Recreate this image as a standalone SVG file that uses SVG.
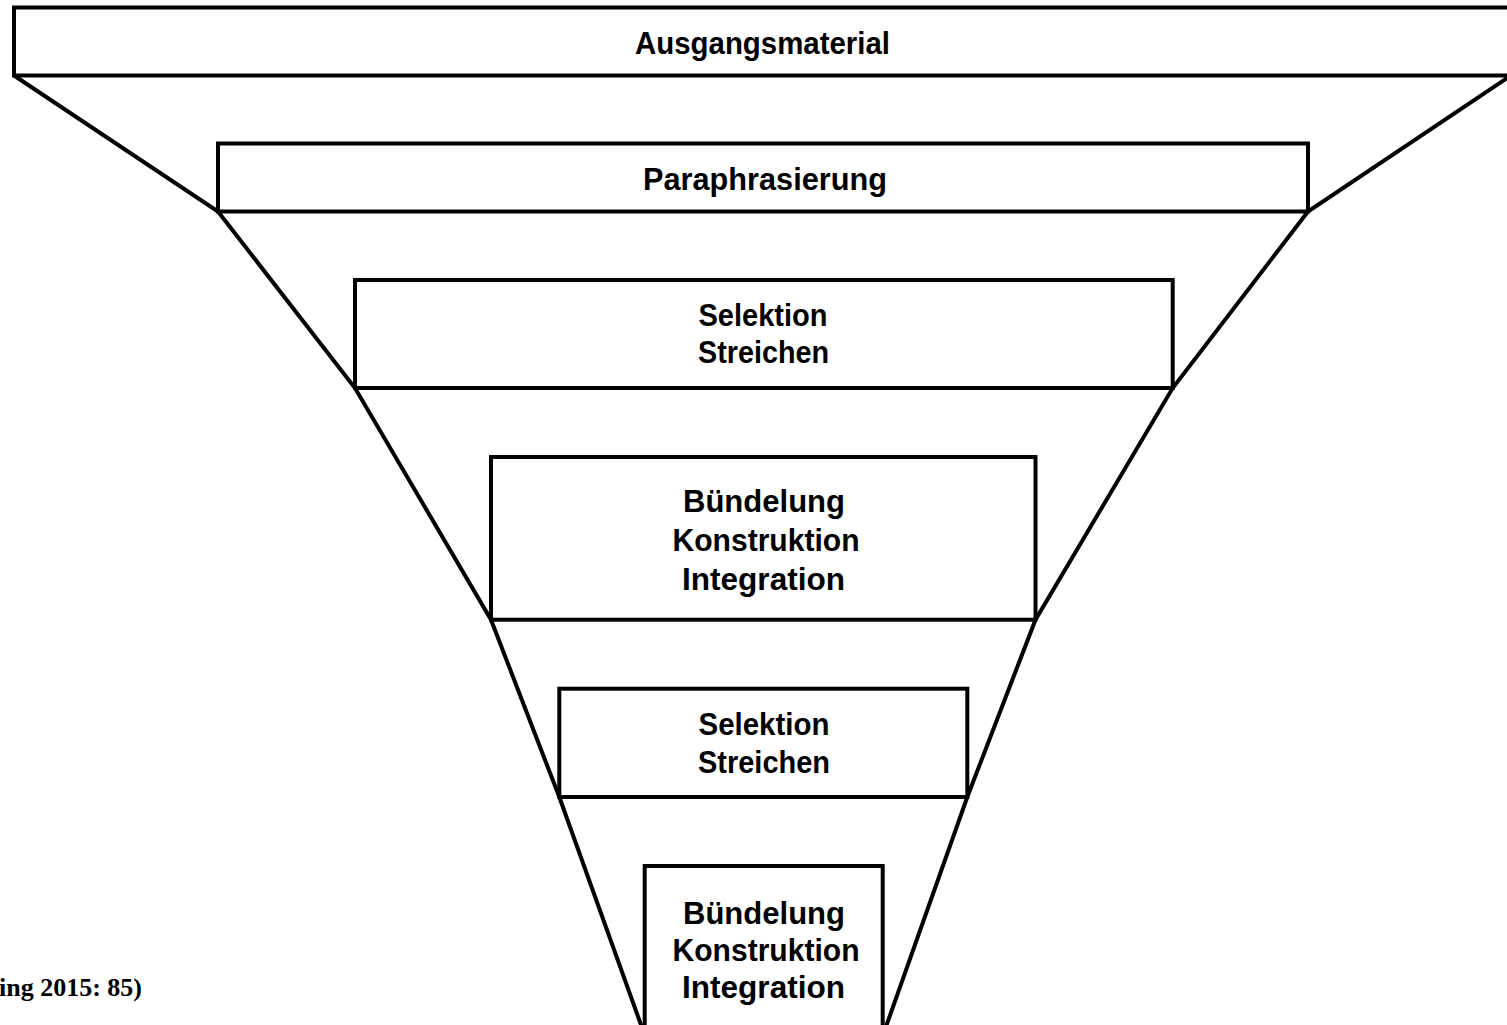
<svg xmlns="http://www.w3.org/2000/svg" width="1507" height="1025" viewBox="0 0 1507 1025">
  <style>
    .box { fill: #ffffff; stroke: #000000; stroke-width: 4; }
    .edge { fill: none; stroke: #000000; stroke-width: 4; stroke-linejoin: miter; }
    .lbl { font-family: "Liberation Sans", Arial, Helvetica, sans-serif; font-weight: bold; font-size: 32px; fill: #000000; text-anchor: middle; }
    .cap { font-family: "Liberation Serif", "Times New Roman", serif; font-weight: bold; font-size: 26px; fill: #000000; }
  </style>
  <rect width="1507" height="1025" fill="#ffffff"/>

  <!-- funnel walls joining the box corners -->
  <g id="connectors">
    <polyline class="edge" points="14,75.5 218,211.5 355,388 491,619.7 559.3,797 645,1036"/>
    <polyline class="edge" points="1511,75.5 1308,211.5 1172.7,388 1035.5,619.7 967.3,797 882.7,1036"/>
  </g>

  <g id="n1">
    <rect class="box" x="14" y="7.5" width="1497" height="68"/>
    <text class="lbl" x="762.5" y="54" textLength="255" lengthAdjust="spacingAndGlyphs">Ausgangsmaterial</text>
  </g>

  <g id="n2">
    <rect class="box" x="218" y="143.5" width="1090" height="68"/>
    <text class="lbl" x="765" y="190" textLength="244" lengthAdjust="spacingAndGlyphs">Paraphrasierung</text>
  </g>

  <g id="n3">
    <rect class="box" x="355" y="280" width="817.7" height="108"/>
    <text class="lbl" x="763" y="326" textLength="129" lengthAdjust="spacingAndGlyphs">Selektion</text>
    <text class="lbl" x="763.5" y="363" textLength="131" lengthAdjust="spacingAndGlyphs">Streichen</text>
  </g>

  <g id="n4">
    <rect class="box" x="491" y="457" width="544.5" height="162.7"/>
    <text class="lbl" x="764" y="512" textLength="162" lengthAdjust="spacingAndGlyphs">Bündelung</text>
    <text class="lbl" x="766" y="551" textLength="187" lengthAdjust="spacingAndGlyphs">Konstruktion</text>
    <text class="lbl" x="763.5" y="590" textLength="163" lengthAdjust="spacingAndGlyphs">Integration</text>
  </g>

  <g id="n5">
    <rect class="box" x="559.3" y="688.7" width="408" height="108.3"/>
    <text class="lbl" x="764" y="735" textLength="131" lengthAdjust="spacingAndGlyphs">Selektion</text>
    <text class="lbl" x="764" y="773" textLength="132" lengthAdjust="spacingAndGlyphs">Streichen</text>
  </g>

  <g id="n6">
    <rect class="box" x="644.7" y="866" width="238" height="175"/>
    <text class="lbl" x="764" y="924" textLength="162" lengthAdjust="spacingAndGlyphs">Bündelung</text>
    <text class="lbl" x="766" y="961" textLength="187" lengthAdjust="spacingAndGlyphs">Konstruktion</text>
    <text class="lbl" x="763.5" y="998" textLength="163" lengthAdjust="spacingAndGlyphs">Integration</text>
  </g>

  <!-- source note, clipped at the left edge -->
  <text class="cap" x="142" y="996" text-anchor="end">ing 2015: 85)</text>
</svg>
